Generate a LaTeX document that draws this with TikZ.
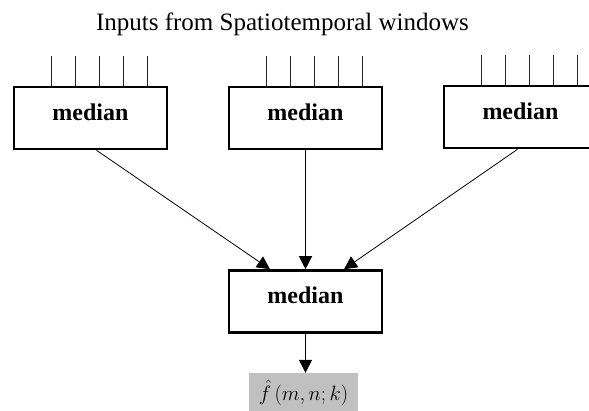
\documentclass[tikz,border=0pt]{standalone}
\usepackage{fontspec}
\setmainfont{Liberation Serif}
\usetikzlibrary{arrows.meta,calc}
\definecolor{outgray}{RGB}{192,192,192}

\begin{document}
\begin{tikzpicture}[x=1pt,y=-1pt,
  box/.style={rectangle,draw,line width=2.6pt,minimum width=153pt,
    minimum height=62pt,inner sep=0pt,text height=18pt,text depth=14pt,
    font=\fontsize{24}{28}\selectfont\bfseries},
  tick/.style={line width=1.3pt,draw=black!85},
  link/.style={-{Triangle[length=13pt,width=13pt]},line width=0.8pt}
]
\useasboundingbox (0,0) rectangle (589,410);
\clip (0,0) rectangle (589,410);

% Title
\node[font=\fontsize{25}{30}\selectfont,anchor=base] (title) at (282.5,30)
  {Inputs from Spatiotemporal windows};

% Window medians
\node[box] (m1) at (90.5,118)  {median};
\node[box] (m2) at (305.5,118) {median};
\node[box] (m3) at (520.5,117) {median};

% Inputs
\foreach \b in {m1,m2,m3}
  \foreach \i in {0,...,4}
    \draw[tick] ($(\b.north west)+(38.5+24*\i,0)$) -- ++(0,-30);

% Final median and output
\node[box] (mo) at (305.5,301.5) {median};
\node[fill=outgray,minimum width=109pt,minimum height=40pt,inner sep=0pt,
  font=\fontsize{22}{26}\selectfont] (out) at (303.5,393) {$\hat{f}\,(m,n;k)$};

\draw[link] ($(m1.south)+(6,0)$) -- ($(mo.north)+(-35.5,0)$);
\draw[link,line width=1.2pt] (m2) -- (mo);
\draw[link] ($(m3.south)+(-3,0)$) -- ($(mo.north)+(38.5,0)$);
\draw[link,line width=1.2pt] (mo) -- (mo |- out.north);
\end{tikzpicture}
\end{document}
